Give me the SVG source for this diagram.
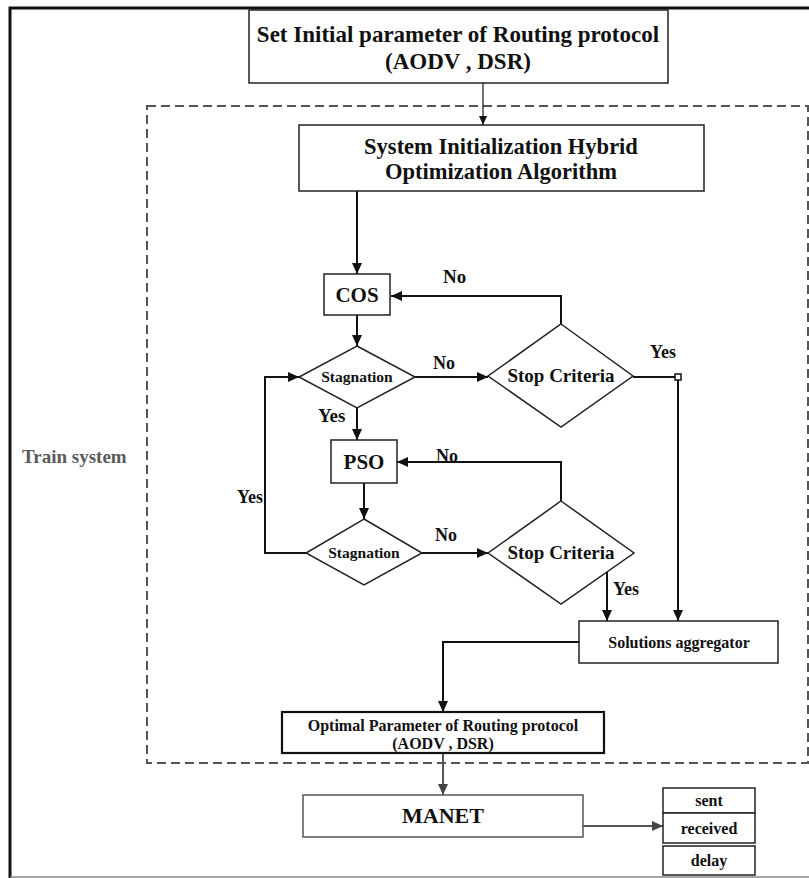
<svg xmlns="http://www.w3.org/2000/svg" width="809" height="878" viewBox="0 0 809 878">
<defs>
<style>
text{font-family:"Liberation Serif","Times New Roman",serif;font-weight:bold;fill:#111}
.c{text-anchor:middle}
.box{fill:#fff;stroke:#222;stroke-width:1.5}
.ln{fill:none;stroke:#111;stroke-width:2}
.gl{fill:none;stroke:#555;stroke-width:2}
</style>
<marker id="ah" markerUnits="userSpaceOnUse" markerWidth="12" markerHeight="10" refX="11" refY="5" orient="auto">
<path d="M0,0 L11,5 L0,10 z" fill="#111"/>
</marker>
<marker id="ahs" markerUnits="userSpaceOnUse" markerWidth="9" markerHeight="8" refX="9" refY="4" orient="auto">
<path d="M0,0 L9,4 L0,8 z" fill="#111"/>
</marker>
<marker id="ahg" markerUnits="userSpaceOnUse" markerWidth="12" markerHeight="10" refX="11" refY="5" orient="auto">
<path d="M0,0 L11,5 L0,10 z" fill="#444"/>
</marker>
</defs>
<rect width="809" height="878" fill="#fff"/>
<g id="frame">
<path d="M10,878 L10,8 L809,8" fill="none" stroke="#111" stroke-width="3"/>
<line x1="10" y1="877" x2="809" y2="877" stroke="#888" stroke-width="1.5"/>
</g>
<g id="train-system">
<rect x="147" y="106" width="661" height="657" fill="none" stroke="#555" stroke-width="2" stroke-dasharray="9,5"/>
<text x="22" y="463" font-size="19" style="fill:#5a5a5a">Train system</text>
</g>
<g id="connectors">
<line x1="483" y1="83" x2="483" y2="125" stroke="#111" stroke-width="1.2" marker-end="url(#ahs)"/>
<line class="ln" x1="357" y1="191" x2="357" y2="274" marker-end="url(#ah)"/>
<line class="ln" x1="357" y1="315" x2="357" y2="346" marker-end="url(#ah)"/>
<polyline class="ln" points="561,324 561,296 391,296" marker-end="url(#ah)"/>
<line class="ln" x1="415" y1="377" x2="488" y2="377" marker-end="url(#ah)"/>
<polyline class="ln" points="633,377 678,377 678,621" marker-end="url(#ah)"/>
<rect x="675" y="374" width="6" height="6" fill="#fff" stroke="#111" stroke-width="1.5"/>
<line class="ln" x1="357" y1="408" x2="357" y2="440" marker-end="url(#ah)"/>
<line class="ln" x1="364" y1="483" x2="364" y2="519" marker-end="url(#ah)"/>
<polyline class="ln" points="561,501 561,462 397,462" marker-end="url(#ah)"/>
<line class="ln" x1="422" y1="553" x2="488" y2="553" marker-end="url(#ah)"/>
<polyline class="ln" points="306,553 265,553 265,377 299,377" marker-end="url(#ah)"/>
<line class="ln" x1="607" y1="572" x2="607" y2="621" marker-end="url(#ah)"/>
<polyline class="ln" points="579,642 443,642 443,712" marker-end="url(#ah)"/>
<line class="gl" x1="443" y1="753" x2="443" y2="795" marker-end="url(#ahg)"/>
<line class="gl" x1="583" y1="826" x2="663" y2="826" marker-end="url(#ahg)"/>
<text x="443" y="283" font-size="19">No</text>
<text x="433" y="369" font-size="18">No</text>
<text x="650" y="358" font-size="18">Yes</text>
<text x="318" y="422" font-size="19">Yes</text>
<text x="436" y="462" font-size="18">No</text>
<text x="237" y="503" font-size="18">Yes</text>
<text x="435" y="541" font-size="18">No</text>
<text x="613" y="595" font-size="18">Yes</text>
</g>
<g id="set-initial">
<rect class="box" x="249" y="10" width="419" height="73"/>
<text class="c" x="458" y="42" font-size="23">Set Initial parameter of Routing protocol</text>
<text class="c" x="458" y="69" font-size="23">(AODV , DSR)</text>
</g>
<g id="system-init">
<rect class="box" x="299" y="125" width="405" height="66"/>
<text class="c" x="501" y="154" font-size="22.5">System Initialization Hybrid</text>
<text class="c" x="501" y="179" font-size="22.5">Optimization Algorithm</text>
</g>
<g id="cos">
<rect class="box" x="324" y="274" width="66" height="41"/>
<text class="c" x="357" y="302" font-size="21">COS</text>
</g>
<g id="stagnation1">
<polygon class="box" points="357,346 415,377 357,408 299,377"/>
<text class="c" x="357" y="382" font-size="15.5">Stagnation</text>
</g>
<g id="stop1">
<polygon class="box" points="561,324 633,376 561,427 488,376"/>
<text class="c" x="561" y="382" font-size="19">Stop Criteria</text>
</g>
<g id="pso">
<rect class="box" x="331" y="440" width="66" height="43"/>
<text class="c" x="364" y="469" font-size="21">PSO</text>
</g>
<g id="stagnation2">
<polygon class="box" points="364,519 422,553 364,585 306,553"/>
<text class="c" x="364" y="558" font-size="15.5">Stagnation</text>
</g>
<g id="stop2">
<polygon class="box" points="561,501 634,553 561,604 488,553"/>
<text class="c" x="561" y="559" font-size="19">Stop Criteria</text>
</g>
<g id="aggregator">
<rect class="box" x="579" y="621" width="199" height="42"/>
<text class="c" x="679" y="648" font-size="16">Solutions aggregator</text>
</g>
<g id="optimal">
<rect x="282" y="712" width="322" height="41" fill="#fff" stroke="#111" stroke-width="2.2"/>
<text class="c" x="443" y="731" font-size="16">Optimal Parameter of Routing protocol</text>
<text class="c" x="443" y="749" font-size="16">(AODV , DSR)</text>
</g>
<g id="manet">
<rect x="303" y="795" width="280" height="42" fill="#fff" stroke="#555" stroke-width="1.5"/>
<text class="c" x="443" y="823" font-size="22">MANET</text>
</g>
<g id="metrics">
<rect class="box" x="663" y="788" width="92" height="25"/>
<text class="c" x="709" y="806" font-size="16">sent</text>
<rect class="box" x="663" y="813" width="92" height="30"/>
<text class="c" x="709" y="834" font-size="16">received</text>
<rect class="box" x="663" y="846" width="92" height="29"/>
<text class="c" x="709" y="866" font-size="16">delay</text>
</g>
</svg>
